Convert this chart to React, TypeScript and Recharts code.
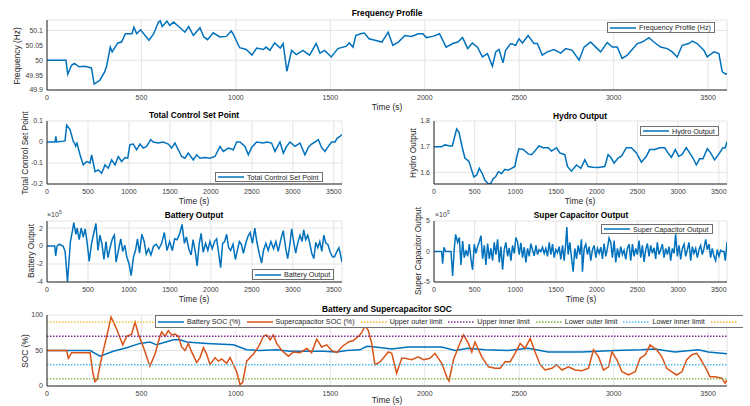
import React from "react";
import { LineChart, Line, XAxis, YAxis, CartesianGrid, ReferenceLine } from "recharts";

const FONT = '"Liberation Sans", Arial, Helvetica, sans-serif';
const BLUE = "#0072BD";
const ORANGE = "#D95319";
const AXIS = "#262626";
const GRID = "#e4e4e4";

const timeTicks = [0, 500, 1000, 1500, 2000, 2500, 3000, 3500];

// [time (s), value] pairs
const frequencyHz: [number, number][] = [
  [0, 50], [100, 50], [110, 49.953], [130, 49.983], [145, 49.989], [170, 49.978], [200, 49.98], [235, 49.974],
  [250, 49.92], [280, 49.933], [305, 49.961], [315, 49.978], [335, 50.044], [345, 50.028], [375, 50.058],
  [395, 50.061], [415, 50.089], [450, 50.089], [460, 50.111], [475, 50.089], [495, 50.102], [540, 50.067],
  [565, 50.089], [590, 50.128], [600, 50.132], [610, 50.113], [635, 50.131], [650, 50.117], [670, 50.128],
  [705, 50.109], [730, 50.094], [750, 50.113], [775, 50.083], [810, 50.109], [830, 50.078], [850, 50.069],
  [880, 50.092], [915, 50.078], [950, 50.08], [975, 50.098], [985, 50.089], [1020, 50.042], [1055, 50.036],
  [1085, 50.017], [1110, 50.041], [1145, 50.036], [1160, 50.044], [1180, 50.033], [1205, 50.058], [1235, 50.041],
  [1250, 50.056], [1270, 49.963], [1295, 50.033], [1320, 50.019], [1355, 50.033], [1390, 50.017], [1425, 50.056],
  [1445, 50.024], [1470, 50.033], [1505, 50.011], [1540, 50.039], [1585, 50.047], [1600, 50.058], [1620, 50.044],
  [1635, 50.083], [1660, 50.089], [1680, 50.091], [1705, 50.072], [1736, 50.067], [1773, 50.061], [1806, 50.094],
  [1831, 50.05], [1860, 50.061], [1895, 50.083], [1930, 50.08], [1965, 50.089], [1990, 50.089], [2008, 50.076],
  [2043, 50.08], [2078, 50.089], [2113, 50.044], [2148, 50.056], [2175, 50.061], [2200, 50.076], [2227, 50.039],
  [2252, 50.058], [2279, 50.044], [2305, 50.011], [2332, 50.022], [2358, 49.98], [2376, 50.028], [2393, 50.036],
  [2414, 49.991], [2428, 50.033], [2455, 50.056], [2481, 50.05], [2499, 50.072], [2517, 50.058], [2547, 50.083],
  [2578, 50.056], [2596, 50.056], [2622, 50.017], [2649, 50.028], [2684, 50.036], [2720, 50.024], [2746, 50.039],
  [2781, 50.033], [2817, 50.0], [2843, 50.044], [2878, 50.061], [2905, 50.044], [2931, 50.028], [2966, 50.059],
  [2993, 50.044], [3019, 50.044], [3045, 50.006], [3072, 50.017], [3098, 50.036], [3125, 50.056], [3151, 50.061],
  [3187, 50.076], [3213, 50.061], [3248, 50.044], [3284, 50.039], [3310, 50.028], [3336, 50.011], [3363, 50.05],
  [3398, 50.056], [3416, 50.064], [3442, 50.056], [3478, 50.033], [3495, 50.011], [3531, 50.028], [3557, 50.022],
  [3575, 49.961], [3593, 49.953], [3600, 49.956],
];

const controlSetPoint: [number, number][] = [
  [0, 0], [98, 0], [108, 0.027], [118, 0], [220, 0.005], [240, 0.08], [280, 0.06], [321, 0.003], [335, -0.005],
  [350, -0.02], [365, -0.005], [403, -0.061], [443, -0.109], [484, -0.093], [525, -0.1], [545, -0.061],
  [586, -0.141], [626, -0.133], [667, -0.149], [708, -0.109], [748, -0.125], [789, -0.085], [830, -0.109],
  [870, -0.069], [911, -0.093], [952, -0.074], [985, -0.077], [1012, -0.013], [1053, -0.01], [1094, -0.037],
  [1135, -0.01], [1175, -0.029], [1216, -0.021], [1265, 0.011], [1297, 0], [1358, -0.005], [1419, 0],
  [1480, -0.01], [1521, -0.029], [1562, -0.005], [1602, -0.037], [1643, -0.069], [1684, -0.077], [1724, -0.053],
  [1785, -0.085], [1826, -0.061], [1867, -0.077], [1928, -0.074], [1989, -0.077], [2050, -0.069], [2111, -0.021],
  [2152, -0.045], [2213, -0.029], [2274, -0.037], [2315, 0], [2355, 0], [2416, -0.021], [2457, -0.061],
  [2497, -0.026], [2558, 0], [2640, -0.005], [2680, 0], [2741, -0.005], [2782, -0.045], [2843, 0], [2884, -0.053],
  [2924, -0.021], [2965, 0], [3026, -0.021], [3087, -0.005], [3148, -0.061], [3189, -0.026], [3229, -0.01],
  [3270, 0], [3311, 0.011], [3351, -0.026], [3392, -0.045], [3433, -0.021], [3473, 0], [3514, 0], [3543, 0.019],
  [3575, 0.027], [3600, 0.035],
];

const hydroOutput: [number, number][] = [
  [0, 1.7], [94, 1.7], [135, 1.707], [196, 1.703], [225, 1.703], [278, 1.769], [307, 1.756], [348, 1.696],
  [380, 1.656], [430, 1.643], [462, 1.609], [490, 1.583], [524, 1.589], [556, 1.616], [593, 1.596], [626, 1.569],
  [667, 1.556], [695, 1.556], [728, 1.576], [757, 1.583], [790, 1.603], [830, 1.596], [871, 1.612], [912, 1.609],
  [953, 1.616], [994, 1.623], [1014, 1.656], [1043, 1.692], [1096, 1.689], [1157, 1.672], [1198, 1.669],
  [1239, 1.683], [1288, 1.703], [1342, 1.696], [1403, 1.696], [1444, 1.683], [1505, 1.696], [1546, 1.676],
  [1607, 1.669], [1640, 1.623], [1689, 1.605], [1751, 1.629], [1804, 1.616], [1853, 1.649], [1894, 1.623],
  [1955, 1.62], [2016, 1.619], [2098, 1.623], [2139, 1.669], [2172, 1.659], [2213, 1.636], [2262, 1.656],
  [2303, 1.663], [2364, 1.696], [2425, 1.696], [2487, 1.676], [2548, 1.64], [2609, 1.663], [2650, 1.689],
  [2712, 1.689], [2773, 1.696], [2834, 1.696], [2875, 1.676], [2916, 1.659], [2965, 1.689], [3006, 1.663],
  [3047, 1.669], [3100, 1.696], [3141, 1.676], [3182, 1.656], [3223, 1.629], [3264, 1.653], [3305, 1.653],
  [3358, 1.692], [3399, 1.676], [3448, 1.649], [3501, 1.672], [3550, 1.696], [3579, 1.696], [3600, 1.72],
];

// battery and supercapacitor outputs in units of 10^5
const batteryOutput: [number, number][] = [
  [0, 0], [94, 0], [106, -1.1], [123, 0], [147, 0.2], [196, 0], [221, -0.6], [250, -4], [270, -1.5], [286, 0.5],
  [311, 1.7], [327, 2.6], [352, 1.3], [368, 2.0], [393, 0.7], [417, 2.0], [442, 1.0], [466, 1.9], [491, 0.3],
  [515, -1.7], [544, 0.3], [573, 1.5], [597, 2.5], [622, -0.5], [646, 1.2], [671, 0.2], [695, -1.5], [720, 0.5],
  [744, -1.3], [769, -0.2], [798, 0.8], [822, 1.2], [843, -1.8], [871, -0.5], [900, 0.8], [924, -0.6], [949, 0.1],
  [973, -1.2], [1002, -2.0], [1027, -3.3], [1055, -1.2], [1080, -0.5], [1104, 0.8], [1129, -0.8], [1157, 1.3],
  [1186, 0.5], [1211, -0.9], [1239, -0.3], [1268, -1.0], [1301, 0], [1333, 0.2], [1366, -0.3], [1399, 0.3],
  [1432, 1.5], [1464, -0.5], [1497, 0.5], [1530, -0.5], [1558, 0.8], [1587, 0.7], [1620, 1.4], [1648, 2.4],
  [1677, 0.3], [1701, 1.0], [1730, -0.3], [1759, -1.0], [1783, 0.7], [1812, -0.8], [1832, -2.2], [1857, 0.2],
  [1881, 1.4], [1906, -0.7], [1935, 0.3], [1963, -0.5], [1988, 0.5], [2016, -0.3], [2045, 0.5], [2070, 0.8],
  [2098, -1.0], [2119, -2.4], [2143, 0.3], [2168, 0.5], [2192, 1.3], [2217, -0.2], [2241, -0.5], [2270, 0.2],
  [2299, -1.5], [2323, -0.5], [2348, 0.5], [2372, 0.2], [2397, -0.8], [2425, 0.3], [2454, 1.1], [2479, 1.5],
  [2507, 0.3], [2536, 2.0], [2560, 0.5], [2589, -0.8], [2618, -1.9], [2642, -0.5], [2671, 0.3], [2699, -0.5],
  [2732, 0.5], [2765, -0.3], [2793, 0.5], [2822, -0.6], [2855, 0.8], [2883, 1.7], [2912, -0.2], [2937, -1.4],
  [2961, 0], [2986, 1.9], [3010, 0.5], [3035, -0.8], [3059, 0.3], [3088, 1.2], [3113, 0.5], [3133, 1.8],
  [3157, 0.7], [3182, 1.2], [3207, 0.3], [3231, -0.8], [3256, -1.4], [3280, 0.4], [3305, -0.2], [3329, 0.5],
  [3354, -0.6], [3378, 1.2], [3403, 0.3], [3427, 0.2], [3456, -0.7], [3485, -1.2], [3509, -1.2], [3538, -0.6],
  [3562, -0.2], [3583, -1.0], [3600, -1.8],
];

const superCapOutput: [number, number][] = [
  [0, 0], [94, 0], [106, -2.0], [123, 0.7], [143, 0], [209, 0], [229, -4.0], [249, 0.5], [266, 2.8], [290, 1.5],
  [311, 2.3], [331, -2.2], [352, 1.7], [372, -1.0], [393, 0.2], [413, -0.8], [434, 1.2], [454, -1.2], [474, -3.0],
  [495, 1.2], [515, -0.3], [536, 0.8], [556, 1.6], [577, 2.6], [597, -1.2], [618, 1.0], [638, -2.2], [659, 1.3],
  [679, -1.2], [699, 0.5], [720, -1.5], [740, 1.5], [761, -0.5], [781, 2.0], [802, -1.8], [822, 0.8], [843, -3.0],
  [863, 0.3], [883, 1.5], [904, -0.8], [924, 0.6], [945, -1.5], [965, 1.0], [986, -0.3], [1006, 2.3], [1027, 1.5],
  [1047, -0.5], [1067, 1.4], [1088, -1.0], [1108, 0.7], [1129, -1.8], [1149, 0.5], [1170, -0.8], [1190, 1.3],
  [1211, 0.2], [1231, -0.7], [1252, 1.0], [1272, -0.5], [1292, 0.3], [1313, 0], [1333, 0.7], [1354, -0.3],
  [1374, 0.5], [1395, -0.8], [1415, 1.5], [1436, -0.5], [1456, 1.2], [1477, -1.0], [1497, 0.3], [1517, -0.2],
  [1538, 0.8], [1558, -1.3], [1579, 1.0], [1599, -1.5], [1620, 1.5], [1632, 4.0], [1648, -0.5], [1669, 1.5],
  [1689, -1.0], [1710, -3.3], [1730, 0.5], [1751, -1.2], [1771, 1.0], [1792, -0.5], [1812, 2.0], [1824, -3.3],
  [1845, 0.5], [1865, 1.2], [1886, -0.5], [1906, 0.8], [1926, -1.5], [1947, 0.3], [1967, 1.0], [1988, -1.0],
  [2008, 0.5], [2029, -0.3], [2049, 0.7], [2070, -1.2], [2090, 1.3], [2111, -0.8], [2131, 0.5], [2151, 2.2],
  [2172, 1.5], [2192, -1.0], [2213, 1.8], [2233, -1.8], [2254, 0.5], [2274, -1.0], [2295, 0.8], [2315, -0.5],
  [2335, 0.2], [2356, -1.3], [2376, 0.5], [2397, 1.2], [2417, -1.5], [2438, 1.2], [2458, -0.8], [2479, 0.5],
  [2499, -0.5], [2519, 1.8], [2540, -1.0], [2560, 1.0], [2581, -1.7], [2601, 0.3], [2622, 1.3], [2642, -0.8],
  [2663, 1.0], [2683, -0.3], [2704, 0.6], [2724, -1.2], [2744, 1.5], [2765, -0.5], [2785, 0.3], [2806, 1.2],
  [2826, -1.0], [2847, 0.5], [2867, -0.5], [2888, 0.8], [2908, -1.5], [2928, 0.5], [2949, -0.3], [2969, 2.8],
  [2990, -0.8], [3010, 1.0], [3031, -1.3], [3051, 0.5], [3072, 1.2], [3092, -0.8], [3113, 0.3], [3133, 1.5],
  [3154, -1.5], [3174, 0.8], [3194, -0.3], [3215, 0.5], [3235, -1.0], [3256, 0.3], [3276, 1.0], [3297, -0.5],
  [3317, 0.5], [3338, 2.0], [3358, 0.3], [3379, 1.2], [3399, -1.0], [3419, 0.5], [3440, -0.8], [3460, -1.5],
  [3481, 0.3], [3501, -0.8], [3522, 0.2], [3542, 0], [3563, 0], [3579, -1.5], [3600, 1.5],
];

const batterySoc: [number, number][] = [
  [0, 50], [104, 50], [228, 50], [281, 42], [351, 49], [422, 54], [492, 60], [545, 62], [580, 58], [669, 65],
  [704, 65], [740, 62], [845, 60], [987, 58], [1057, 51], [1128, 50], [1216, 51], [1287, 49], [1393, 49],
  [1463, 49], [1534, 48], [1587, 50], [1657, 51], [1693, 56], [1737, 55], [1825, 52], [1912, 55], [2089, 55],
  [2160, 50], [2230, 53], [2318, 51], [2441, 50], [2547, 53], [2653, 48], [2829, 48], [3006, 50], [3147, 51],
  [3218, 52], [3324, 48], [3448, 51], [3501, 48], [3600, 45.5],
];

const superCapSoc: [number, number][] = [
  [0, 50], [104, 50], [113, 39], [131, 47], [228, 47], [242, 20], [254, 6], [267, 10], [281, 30], [307, 60],
  [325, 80], [339, 97], [348, 92], [369, 80], [401, 58], [422, 70], [448, 73], [466, 90], [484, 73], [510, 55],
  [545, 28], [572, 45], [598, 70], [607, 76], [625, 70], [642, 78], [660, 72], [678, 73], [695, 70], [713, 55],
  [731, 50], [748, 60], [766, 48], [792, 33], [810, 40], [828, 54], [845, 45], [863, 30], [890, 40], [907, 35],
  [925, 38], [951, 32], [969, 40], [987, 30], [1004, 20], [1022, 2], [1036, 5], [1057, 35], [1093, 45],
  [1119, 55], [1146, 70], [1163, 72], [1181, 65], [1198, 72], [1216, 60], [1243, 50], [1278, 42], [1304, 48],
  [1340, 47], [1375, 53], [1401, 47], [1428, 66], [1454, 55], [1481, 58], [1507, 50], [1534, 47], [1560, 55],
  [1596, 62], [1622, 64], [1649, 70], [1666, 75], [1684, 85], [1701, 78], [1719, 60], [1736, 30], [1763, 34],
  [1807, 48], [1825, 46], [1851, 18], [1878, 39], [1895, 39], [1931, 37], [1966, 41], [1993, 37], [2028, 39],
  [2054, 46], [2090, 32], [2116, 13], [2128, 7], [2152, 37], [2178, 55], [2205, 72], [2231, 60], [2249, 48],
  [2266, 62], [2302, 41], [2337, 27], [2372, 25], [2399, 25], [2425, 34], [2452, 34], [2478, 46], [2505, 60],
  [2531, 53], [2558, 67], [2584, 48], [2611, 30], [2637, 22.5], [2673, 25], [2699, 30], [2726, 22.5], [2761, 27],
  [2796, 22.5], [2832, 21.6], [2867, 25], [2893, 51], [2920, 41], [2946, 22.5], [2973, 27], [2991, 48],
  [3017, 37], [3044, 20], [3079, 15.5], [3114, 20], [3140, 39], [3167, 44], [3193, 58], [3228, 51], [3255, 41],
  [3281, 25], [3308, 20], [3334, 15.5], [3361, 20], [3387, 37], [3414, 44], [3440, 46], [3458, 39], [3484, 27],
  [3510, 13], [3537, 13], [3572, 11], [3590, 4], [3600, 8.5],
];

const socLimitNames = ["Upper outer limit", "Upper inner limit", "Lower outer limit", "Lower inner limit"];
const socLimitValues = [90, 70, 10, 30];
const socLimitColors = ["#EDB120", "#7E2F8E", "#77AC30", "#4DBEEE"];

const toPoints = (pairs: [number, number][]) => pairs.map(([t, v]) => ({ t, v }));

const tickStyle = { fontSize: 7, fill: "#404040", fontFamily: FONT };
const YW = 40;
const MT = 6;
const MR = 8;

interface PanelProps {
  left: number;
  top: number;
  width: number;
  height: number;
  yDomain: [number, number];
  yTicks: number[];
  children: React.ReactNode;
}

function Panel({ left, top, width, height, yDomain, yTicks, children }: PanelProps) {
  return (
    <div style={{ position: "absolute", left: left - YW, top: top - MT }}>
      <LineChart width={YW + width + MR} height={MT + height + 16} margin={{ top: MT, right: MR, left: 0, bottom: 0 }}>
        <CartesianGrid stroke={GRID} />
        <XAxis
          type="number"
          dataKey="t"
          domain={[0, 3600]}
          ticks={timeTicks}
          allowDataOverflow
          height={16}
          tickLine={false}
          tickSize={3}
          tickMargin={2}
          stroke={AXIS}
          tick={tickStyle}
        />
        <YAxis
          type="number"
          domain={yDomain}
          ticks={yTicks}
          allowDataOverflow
          width={YW}
          tickLine={false}
          tickSize={2}
          tickMargin={2}
          stroke={AXIS}
          tick={tickStyle}
        />
        {children}
      </LineChart>
    </div>
  );
}

function Txt({ x, y, children, bold, size = 8.4, rotate }: { x: number; y: number; children: React.ReactNode; bold?: boolean; size?: number; rotate?: boolean }) {
  return (
    <div
      style={{
        position: "absolute",
        left: x,
        top: y,
        transform: `translate(-50%, -50%)${rotate ? " rotate(-90deg)" : ""}`,
        whiteSpace: "nowrap",
        fontSize: size,
        fontWeight: bold ? "bold" : "normal",
        color: bold ? "#000" : "#262626",
        fontFamily: FONT,
        lineHeight: 1,
      }}
    >
      {children}
    </div>
  );
}

function Exponent({ x, y }: { x: number; y: number }) {
  return (
    <div style={{ position: "absolute", left: x, top: y, fontSize: 7, color: "#404040", fontFamily: FONT, lineHeight: 1 }}>
      ×10<sup style={{ fontSize: 5 }}>5</sup>
    </div>
  );
}

interface LegendItem {
  label: string;
  color: string;
  dotted?: boolean;
}

function LegendBox({ left, top, height, items, noRight }: { left: number; top: number; height: number; items: LegendItem[]; noRight?: boolean }) {
  return (
    <div
      style={{
        position: "absolute",
        left,
        top,
        height,
        boxSizing: "border-box",
        border: "1px solid #707070",
        borderRight: noRight ? "none" : "1px solid #707070",
        background: "#fff",
        display: "flex",
        alignItems: "center",
        padding: "0 3px 0 2px",
        fontSize: 7.2,
        fontFamily: FONT,
        color: "#262626",
        whiteSpace: "nowrap",
      }}
    >
      {items.map((it, i) => (
        <span key={i} style={{ display: "flex", alignItems: "center", marginLeft: i ? 6 : 0 }}>
          <svg width={26} height={4}>
            <line
              x1={0}
              y1={2}
              x2={26}
              y2={2}
              stroke={it.color}
              strokeWidth={1.5}
              strokeDasharray={it.dotted ? "1.5 1.5" : undefined}
            />
          </svg>
          <span style={{ marginLeft: 3 }}>{it.label}</span>
        </span>
      ))}
    </div>
  );
}

const blueLine = (pairs: [number, number][]) => (
  <Line data={toPoints(pairs)} dataKey="v" stroke={BLUE} strokeWidth={1.5} dot={false} isAnimationActive={false} />
);

export default function App() {
  const socLegend: LegendItem[] = [
    { label: "Battery SOC (%)", color: BLUE },
    { label: "Supercapacitor SOC (%)", color: ORANGE },
    ...socLimitNames.map((n, i) => ({ label: n, color: socLimitColors[i], dotted: true })),
    { label: "", color: socLimitColors[0], dotted: true },
  ];

  return (
    <div style={{ position: "absolute", left: 0, top: 0, width: 750, height: 406, overflow: "hidden", background: "#fff" }}>
      {/* Frequency profile */}
      <Panel left={47} top={20} width={680} height={70} yDomain={[49.9, 50.135]} yTicks={[49.9, 49.95, 50, 50.05, 50.1]}>
        {blueLine(frequencyHz)}
      </Panel>
      <Txt x={387} y={13} bold>Frequency Profile</Txt>
      <Txt x={387} y={107}>Time (s)</Txt>
      <Txt x={17} y={56} rotate>Frequency (Hz)</Txt>
      <LegendBox left={607} top={22} height={11} items={[{ label: "Frequency Profile (Hz)", color: BLUE }]} />

      {/* Total control set point */}
      <Panel left={47} top={121} width={295} height={63} yDomain={[-0.2, 0.1]} yTicks={[-0.2, -0.1, 0, 0.1]}>
        {blueLine(controlSetPoint)}
      </Panel>
      <Txt x={194} y={115} bold>Total Control Set Point</Txt>
      <Txt x={194} y={201}>Time (s)</Txt>
      <Txt x={25} y={153} rotate>Total Control Set Point</Txt>
      <LegendBox left={215} top={172} height={10} items={[{ label: "Total Control Set Point", color: BLUE }]} />

      {/* Hydro output */}
      <Panel left={434} top={121} width={293} height={63} yDomain={[1.555, 1.8]} yTicks={[1.6, 1.7, 1.8]}>
        {blueLine(hydroOutput)}
      </Panel>
      <Txt x={580} y={116} bold>Hydro Output</Txt>
      <Txt x={580} y={201}>Time (s)</Txt>
      <Txt x={413} y={153} rotate>Hydro Output</Txt>
      <LegendBox left={640} top={126} height={10} items={[{ label: "Hydro Output", color: BLUE }]} />

      {/* Battery output */}
      <Panel left={47} top={221} width={295} height={61} yDomain={[-4, 2.78]} yTicks={[-4, -2, 0, 2]}>
        {blueLine(batteryOutput)}
      </Panel>
      <Txt x={194} y={215} bold>Battery Output</Txt>
      <Txt x={194} y={299}>Time (s)</Txt>
      <Txt x={31} y={251} rotate>Battery Output</Txt>
      <Exponent x={47} y={210} />
      <LegendBox left={252} top={269} height={11} items={[{ label: "Battery Output", color: BLUE }]} />

      {/* Super capacitor output */}
      <Panel left={434} top={221} width={293} height={61} yDomain={[-5, 5]} yTicks={[-5, 0, 5]}>
        {blueLine(superCapOutput)}
      </Panel>
      <Txt x={581} y={215} bold>Super Capacitor Output</Txt>
      <Txt x={581} y={299}>Time (s)</Txt>
      <Txt x={418} y={251} rotate>Super Capacitor Output</Txt>
      <Exponent x={435} y={210} />
      <LegendBox left={601} top={224} height={10} items={[{ label: "Super Capacitor Output", color: BLUE }]} />

      {/* SOC */}
      <Panel left={47} top={315} width={680} height={71} yDomain={[0, 100]} yTicks={[0, 50, 100]}>
        <Line data={toPoints(batterySoc)} dataKey="v" stroke={BLUE} strokeWidth={1.5} dot={false} isAnimationActive={false} />
        <Line data={toPoints(superCapSoc)} dataKey="v" stroke={ORANGE} strokeWidth={1.5} dot={false} isAnimationActive={false} />
        {socLimitValues.map((y, i) => (
          <ReferenceLine key={i} y={y} stroke={socLimitColors[i]} strokeWidth={1.4} strokeDasharray="1.5 1.5" />
        ))}
      </Panel>
      <Txt x={387} y={309} bold>Battery and Supercapacitor SOC</Txt>
      <Txt x={387} y={400}>Time (s)</Txt>
      <Txt x={25} y={351} rotate>SOC (%)</Txt>
      <LegendBox left={155} top={315} height={13} items={socLegend} noRight />
    </div>
  );
}
